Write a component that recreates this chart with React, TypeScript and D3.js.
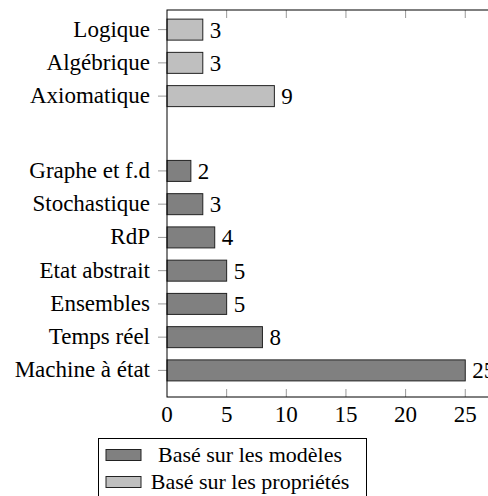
import React from "react";
import * as d3 from "d3";

// model-based approaches (dark bars), bottom to top
const modelCats = ["Machine à état", "Temps réel", "Ensembles", "Etat abstrait", "RdP", "Stochastique", "Graphe et f.d"];
const modelValues = [25, 8, 5, 5, 4, 3, 2];
const modelPos = [0, 1, 2, 3, 4, 5, 6];

// property-based approaches (light bars)
const propCats = ["Axiomatique", "Algébrique", "Logique"];
const propValues = [9, 3, 3];
const propPos = [8.25, 9.25, 10.25];

const xTicks = [0, 5, 10, 15, 20, 25, 30];
const legendLabels = ["Basé sur les modèles", "Basé sur les propriétés"];
const colors = ["#808080", "#bfbfbf"];

const width = 488;
const height = 496;
const txt = { fontFamily: "Liberation Serif", fontSize: 23 };

const App = () => {
  const x = d3.scaleLinear().domain([0, 30]).range([167, 167 + 30 * 11.93]);
  const y = d3.scaleLinear().domain([-0.8, 10.84]).range([397, 10]);
  const barH = 21;

  const series = [
    { cats: modelCats, values: modelValues, pos: modelPos, color: colors[0] },
    { cats: propCats, values: propValues, pos: propPos, color: colors[1] },
  ];

  const [x0, x1] = x.range();
  const [yBot, yTop] = y.range();

  return (
    <svg width={width} height={height} className="chart" style={{ position: "absolute", left: 0, top: 0 }}>
      <style>{`svg.chart text { font-family: "Liberation Serif", "Times New Roman", serif !important; }`}</style>
      <rect width={width} height={height} fill="#fff" />
      {/* x ticks, inside on top and bottom */}
      {xTicks.filter((t) => t > 0).map((t) => (
        <g key={t}>
          <line x1={x(t)} x2={x(t)} y1={yTop} y2={yTop + 8} stroke="#999" strokeWidth={1} />
          <line x1={x(t)} x2={x(t)} y1={yBot} y2={yBot - 8} stroke="#999" strokeWidth={1} />
        </g>
      ))}
      {xTicks.map((t) => (
        <text key={"l" + t} x={x(t)} y={yBot + 25} textAnchor="middle" style={txt}>{t}</text>
      ))}

      {series.map((s, si) =>
        s.cats.map((c, i) => (
          <g key={si + "-" + i}>
            <line x1={x0 - 9} x2={x0} y1={y(s.pos[i])} y2={y(s.pos[i])} stroke="#999" strokeWidth={1} />
            <text x={x0 - 17} y={y(s.pos[i]) + 7} textAnchor="end" style={txt}>{c}</text>
            <rect
              x={x(0)}
              y={y(s.pos[i]) - barH / 2}
              width={x(s.values[i]) - x(0)}
              height={barH}
              fill={s.color}
              stroke="#222"
              strokeWidth={1}
            />
            <text x={x(s.values[i]) + 7} y={y(s.pos[i]) + 8} style={txt}>{s.values[i]}</text>
          </g>
        ))
      )}

      {/* axis box */}
      <rect x={x0} y={yTop} width={x1 - x0} height={yBot - yTop} fill="none" stroke="#000" strokeWidth={1} />

      {/* legend */}
      <rect x={98.5} y={438.5} width={268} height={70} fill="#fff" stroke="#000" strokeWidth={1} />
      {legendLabels.map((l, i) => (
        <g key={l}>
          <rect x={106} y={449.5 + i * 27} width={35} height={11} fill={colors[i]} stroke="#222" strokeWidth={1} />
          <text x={250} y={462 + i * 26.5} textAnchor="middle" style={{ ...txt, fontSize: 22 }}>{l}</text>
        </g>
      ))}
    </svg>
  );
};

export default App;
